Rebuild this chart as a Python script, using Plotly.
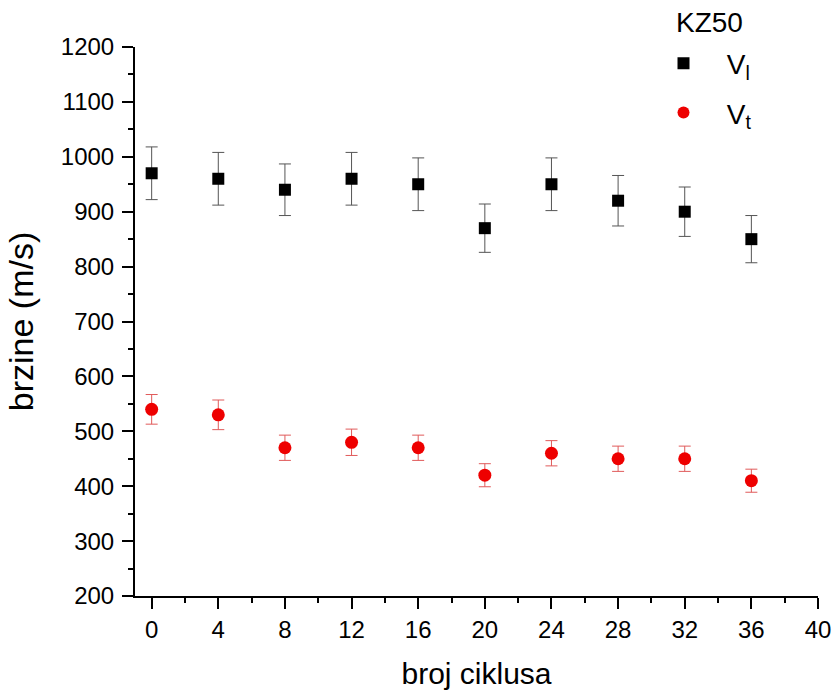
import plotly.graph_objects as go

# cycle counts
cycles = [0, 4, 8, 12, 16, 20, 24, 28, 32, 36]

# longitudinal velocity V_l (m/s) and its uncertainty
v_l = [970, 960, 940, 960, 950, 870, 950, 920, 900, 850]
v_l_err = [48, 48, 47, 48, 48, 44, 48, 46, 45, 43]

# transverse velocity V_t (m/s) and its uncertainty
v_t = [540, 530, 470, 480, 470, 420, 460, 450, 450, 410]
v_t_err = [27, 27, 23, 24, 23, 21, 23, 23, 23, 21]

x_ticks = [0, 4, 8, 12, 16, 20, 24, 28, 32, 36, 40]
y_ticks = [200, 300, 400, 500, 600, 700, 800, 900, 1000, 1100, 1200]

font_family = "Liberation Sans, Arial, sans-serif"
pad = "\u00a0" * 3  # gap between legend symbol and label

fig = go.Figure()

fig.add_trace(go.Scatter(
    x=cycles, y=v_l, mode="markers", name=pad + "V<sub>l</sub>",
    marker=dict(symbol="square", size=12, color="black"),
    error_y=dict(type="data", array=v_l_err, visible=True,
                 color="#555555", thickness=1, width=6),
    legendgroup="a",
))

fig.add_trace(go.Scatter(
    x=cycles, y=v_t, mode="markers", name=pad + "V<sub>t</sub>",
    marker=dict(symbol="circle", size=13, color="#ee0000"),
    error_y=dict(type="data", array=v_t_err, visible=True,
                 color="#e05a5a", thickness=1, width=6),
    legendgroup="b",
))

axis_common = dict(
    showline=True, linecolor="black", linewidth=2,
    ticks="outside", ticklen=11, tickwidth=2, tickcolor="black",
    showgrid=False, zeroline=False, mirror=False,
    tickfont=dict(family=font_family, size=24, color="black"),
)

fig.update_xaxes(
    range=[-1, 40], tickmode="array", tickvals=x_ticks,
    minor=dict(dtick=2, tick0=0, ticklen=5, tickwidth=2,
               tickcolor="black", ticks="outside", showgrid=False),
    title=dict(text="broj ciklusa", standoff=24,
               font=dict(family=font_family, size=30, color="black")),
    **axis_common,
)

fig.update_yaxes(
    range=[200, 1200], tickmode="array", tickvals=y_ticks,
    minor=dict(dtick=50, tick0=0, ticklen=5, tickwidth=2,
               tickcolor="black", ticks="outside", showgrid=False),
    ticklabelstandoff=3,
    title=dict(text="brzine (m/s)", standoff=17,
               font=dict(family=font_family, size=34, color="black")),
    **axis_common,
)

fig.add_annotation(
    text="KZ50", xref="paper", yref="paper", x=0.789, y=1.0455,
    xanchor="left", yanchor="middle", showarrow=False,
    font=dict(family=font_family, size=28, color="black"),
)

fig.update_layout(
    width=834, height=690,
    margin=dict(l=135, r=16, t=47, b=94, autoexpand=False),
    paper_bgcolor="white", plot_bgcolor="white",
    font=dict(family=font_family, color="black"),
    legend=dict(
        font=dict(family=font_family, size=28),
        x=0.7738, y=1.0155, xanchor="left", yanchor="top",
        bgcolor="rgba(0,0,0,0)", tracegroupgap=10,
        itemsizing="constant",
    ),
)

fig.write_html("out.html")
